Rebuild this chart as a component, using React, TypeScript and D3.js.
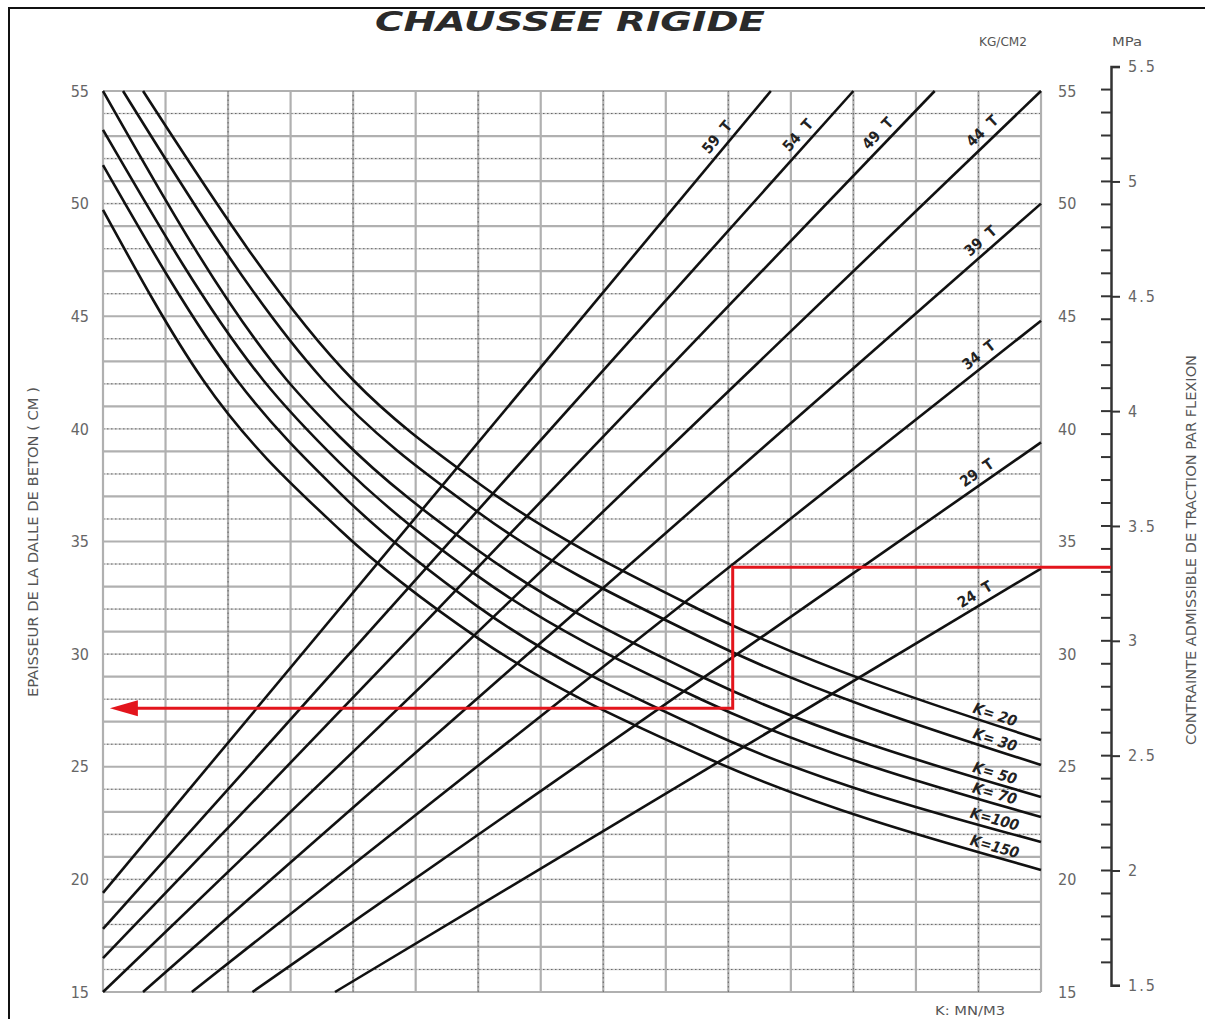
import * as d3 from "d3";
import { useEffect, useRef } from "react";

const WIDTH = 1205;
const HEIGHT = 1019;

// horizontal: plain grid columns (no scale printed), vertical: slab thickness in cm
const colDomain = [0, 15];
const cmDomain = [15, 55];
const cmLabels = [15, 20, 25, 30, 35, 40, 45, 50, 55];
const mpaLabels = [1.5, 2, 2.5, 3, 3.5, 4, 4.5, 5, 5.5];
const kgPerMpa = 10.197;

// straight lines (load), start and end as [col, cm]
const loadLabels = ["59", "54", "49", "44", "39", "34", "29", "24"];
const loadStart = [[0, 19.4], [0, 17.8], [0, 16.5], [0, 15], [0.64, 15], [1.42, 15], [2.39, 15], [3.71, 15]];
const loadEnd = [[10.68, 55], [12.0, 55], [13.3, 55], [15, 55], [15, 50.0], [15, 44.8], [15, 39.4], [15, 33.8]];

// K curves, points read as [col, cm]
const kLabels = ["K= 20", "K= 30", "K= 50", "K= 70", "K=100", "K=150"];
const k20 = [[0.64, 55], [4.0, 42.17], [6, 37.6], [9.55, 31.96], [15, 26.19]];
const k30 = [[0.32, 55], [3.52, 42.17], [6, 36.3], [9.55, 30.76], [15, 25.08]];
const k50 = [[0, 55], [2.94, 42.17], [3.79, 39.64], [6, 34.6], [9.55, 29.03], [15, 23.66]];
const k70 = [[0, 53.27], [2.56, 42.17], [3.79, 38.48], [6, 33.45], [9.55, 28.01], [15, 22.77]];
const k100 = [[0, 51.71], [2.14, 42.17], [3.79, 37.15], [6, 32.1], [9.55, 26.72], [15, 21.66]];
const k150 = [[0, 49.72], [1.6, 42.17], [3.79, 35.51], [6, 30.7], [9.55, 25.52], [15, 20.42]];
const kCurves = [k20, k30, k50, k70, k100, k150];

// red reading example
const readStress = 3.32; // MPa
const readCol = 10.07;
const readThickness = 27.6; // cm
const arrowCol = 0.11;

const FONT = "'DejaVu Sans Condensed', 'DejaVu Sans', sans-serif";

function pointAtX(node: SVGPathElement, px: number) {
  const total = node.getTotalLength();
  let lo = 0;
  let hi = total;
  for (let i = 0; i < 40; i++) {
    const mid = (lo + hi) / 2;
    const p = node.getPointAtLength(mid);
    if (p.x < px) lo = mid;
    else hi = mid;
  }
  return node.getPointAtLength((lo + hi) / 2);
}

function drawChart(el: SVGSVGElement) {
  const svg = d3.select(el);
  svg.selectAll("*").remove();

  const x = d3.scaleLinear().domain(colDomain).range([103, 1041]);
  const y = d3.scaleLinear().domain(cmDomain).range([992, 91]);
  const mpaY = d3
    .scaleLinear()
    .domain([1.5, 5.5])
    .range([y(1.5 * kgPerMpa), y(5.5 * kgPerMpa)]);
  const mpaX = 1111;

  svg.append("rect").attr("width", WIDTH).attr("height", HEIGHT).attr("fill", "white");

  // outer frame
  svg
    .append("path")
    .attr("d", `M9,${HEIGHT} V8 H${WIDTH}`)
    .attr("fill", "none")
    .attr("stroke", "#111")
    .attr("stroke-width", 2);

  // grid
  const grid = svg.append("g");
  y.ticks(40).forEach((v) => {
    const odd = Math.round(v) % 2 === 1;
    grid
      .append("line")
      .attr("x1", x(0))
      .attr("x2", x(15))
      .attr("y1", y(v))
      .attr("y2", y(v))
      .attr("stroke", odd ? "#b0b0b0" : "#cfcfcf")
      .attr("stroke-width", odd ? 2.2 : 1.6);
    if (!odd) {
      grid
        .append("line")
        .attr("x1", x(0))
        .attr("x2", x(15))
        .attr("y1", y(v))
        .attr("y2", y(v))
        .attr("stroke", "#666")
        .attr("stroke-width", 1)
        .attr("stroke-dasharray", "1.5,2.5");
    }
  });
  x.ticks(15).forEach((v) => {
    const even = Math.round(v) % 2 === 0;
    grid
      .append("line")
      .attr("x1", x(v))
      .attr("x2", x(v))
      .attr("y1", y(15))
      .attr("y2", y(55))
      .attr("stroke", "#b0b0b0")
      .attr("stroke-width", 2.2);
    if (even && v > 0 && v < 15) {
      grid
        .append("line")
        .attr("x1", x(v))
        .attr("x2", x(v))
        .attr("y1", y(15))
        .attr("y2", y(55))
        .attr("stroke", "#666")
        .attr("stroke-width", 1)
        .attr("stroke-dasharray", "1.5,3");
    }
  });

  // left & right cm labels
  const leftAxis = svg
    .append("g")
    .attr("transform", `translate(${x(0)},0)`)
    .call(d3.axisLeft(y).tickValues(cmLabels).tickSize(0).tickPadding(14));
  const rightAxis = svg
    .append("g")
    .attr("transform", `translate(${x(15)},0)`)
    .call(d3.axisRight(y).tickValues(cmLabels).tickSize(0).tickPadding(17));
  [leftAxis, rightAxis].forEach((a) => {
    a.select(".domain").remove();
    a.selectAll("text")
      .attr("fill", "#666")
      .style("font-family", FONT)
      .style("font-size", "16px");
  });

  // MPa axis
  const mpaAxis = svg
    .append("g")
    .attr("transform", `translate(${mpaX},0)`)
    .call(
      d3
        .axisRight(mpaY)
        .tickValues(mpaLabels)
        .tickSize(9)
        .tickSizeOuter(9)
        .tickPadding(8)
        .tickFormat((d: any) => String(d))
    );
  mpaAxis.select(".domain").attr("stroke", "#333").attr("stroke-width", 2.5);
  mpaAxis.selectAll("line").attr("stroke", "#333").attr("stroke-width", 2);
  mpaAxis
    .selectAll("text")
    .attr("fill", "#666")
    .style("font-family", FONT)
    .style("font-size", "16px")
    .style("letter-spacing", "2px");
  mpaY.ticks(40).forEach((v) => {
    if (v <= 1.5 || v >= 5.5) return;
    svg
      .append("line")
      .attr("x1", mpaX - 10)
      .attr("x2", mpaX)
      .attr("y1", mpaY(v))
      .attr("y2", mpaY(v))
      .attr("stroke", "#333")
      .attr("stroke-width", 2);
  });

  // straight load lines
  const lines = svg.append("g");
  loadLabels.forEach((lab, i) => {
    const p0 = [x(loadStart[i][0]), y(loadStart[i][1])];
    const p1 = [x(loadEnd[i][0]), y(loadEnd[i][1])];
    lines
      .append("line")
      .attr("x1", p0[0])
      .attr("y1", p0[1])
      .attr("x2", p1[0])
      .attr("y2", p1[1])
      .attr("stroke", "#111")
      .attr("stroke-width", 2.6);

    const len = Math.hypot(p1[0] - p0[0], p1[1] - p0[1]);
    const dx = (p1[0] - p0[0]) / len;
    const dy = (p1[1] - p0[1]) / len;
    const nx = dy;
    const ny = -dx;
    const cx = p1[0] - dx * 70 + nx * 12;
    const cy = p1[1] - dy * 70 + ny * 12;
    const angle = (Math.atan2(dy, dx) * 180) / Math.PI;
    lines
      .append("text")
      .attr("transform", `translate(${cx},${cy}) rotate(${angle})`)
      .attr("text-anchor", "middle")
      .attr("dy", "0.35em")
      .style("font-family", FONT)
      .style("font-size", "15px")
      .style("font-weight", "bold")
      .style("white-space", "pre")
      .attr("fill", "#222")
      .text(`${lab}  T`);
  });

  // K curves
  const line = d3
    .line<number[]>()
    .x((d) => x(d[0]))
    .y((d) => y(d[1]))
    .curve(d3.curveMonotoneX);
  const curves = svg.append("g");
  kCurves.forEach((pts, i) => {
    const path = curves
      .append("path")
      .attr("d", line(pts))
      .attr("fill", "none")
      .attr("stroke", "#111")
      .attr("stroke-width", 2.6);
    const node = path.node() as SVGPathElement;
    const px = 992;
    const pa = pointAtX(node, px - 15);
    const pb = pointAtX(node, px + 15);
    const pm = pointAtX(node, px);
    const len = Math.hypot(pb.x - pa.x, pb.y - pa.y);
    const dx = (pb.x - pa.x) / len;
    const dy = (pb.y - pa.y) / len;
    const angle = (Math.atan2(dy, dx) * 180) / Math.PI;
    const cx = pm.x + dy * 10;
    const cy = pm.y - dx * 10;
    curves
      .append("text")
      .attr("transform", `translate(${cx},${cy}) rotate(${angle})`)
      .attr("text-anchor", "middle")
      .attr("dy", "0.35em")
      .style("font-family", FONT)
      .style("font-size", "15px")
      .style("font-style", "italic")
      .style("font-weight", "bold")
      .style("white-space", "pre")
      .attr("fill", "#222")
      .text(kLabels[i]);
  });

  // red reading path
  const red = "#e3151c";
  const yTop = mpaY(readStress);
  const yLow = y(readThickness);
  const tipX = x(arrowCol);
  svg
    .append("path")
    .attr("d", `M${mpaX},${yTop} H${x(readCol)} V${yLow} H${tipX + 26}`)
    .attr("fill", "none")
    .attr("stroke", red)
    .attr("stroke-width", 3);
  svg
    .append("path")
    .attr("d", `M${tipX},${yLow} L${tipX + 28},${yLow - 8} L${tipX + 28},${yLow + 8} Z`)
    .attr("fill", red);

  // titles
  svg
    .append("text")
    .attr("x", 570)
    .attr("y", 31)
    .attr("text-anchor", "middle")
    .attr("textLength", 390)
    .attr("lengthAdjust", "spacingAndGlyphs")
    .style("font-family", "'DejaVu Sans', sans-serif")
    .style("font-size", "27px")
    .style("font-weight", "bold")
    .style("font-style", "italic")
    .attr("fill", "#2a2a2a")
    .text("CHAUSSEE RIGIDE");

  const small = (t: string, cx: number, cy: number, w: number, size: number, rot = 0) => {
    svg
      .append("text")
      .attr("transform", `translate(${cx},${cy}) rotate(${rot})`)
      .attr("text-anchor", "middle")
      .attr("dy", "0.35em")
      .attr("textLength", w)
      .attr("lengthAdjust", "spacingAndGlyphs")
      .style("font-family", FONT)
      .style("font-size", `${size}px`)
      .attr("fill", "#555")
      .text(t);
  };
  small("KG/CM2", 1003, 41, 48, 13);
  small("MPa", 1127, 41, 30, 13);
  small("K: MN/M3", 970, 1010, 70, 13);
  small("EPAISSEUR DE LA DALLE DE BETON ( CM )", 33, 542, 310, 14, -90);
  small("CONTRAINTE ADMISSIBLE DE TRACTION PAR FLEXION", 1191, 550, 390, 14, -90);
}

export default function App() {
  const ref = useRef<SVGSVGElement>(null);
  useEffect(() => {
    if (ref.current) drawChart(ref.current);
  }, []);
  return (
    <svg
      ref={ref}
      width={WIDTH}
      height={HEIGHT}
      style={{ position: "absolute", left: 0, top: 0 }}
    />
  );
}
